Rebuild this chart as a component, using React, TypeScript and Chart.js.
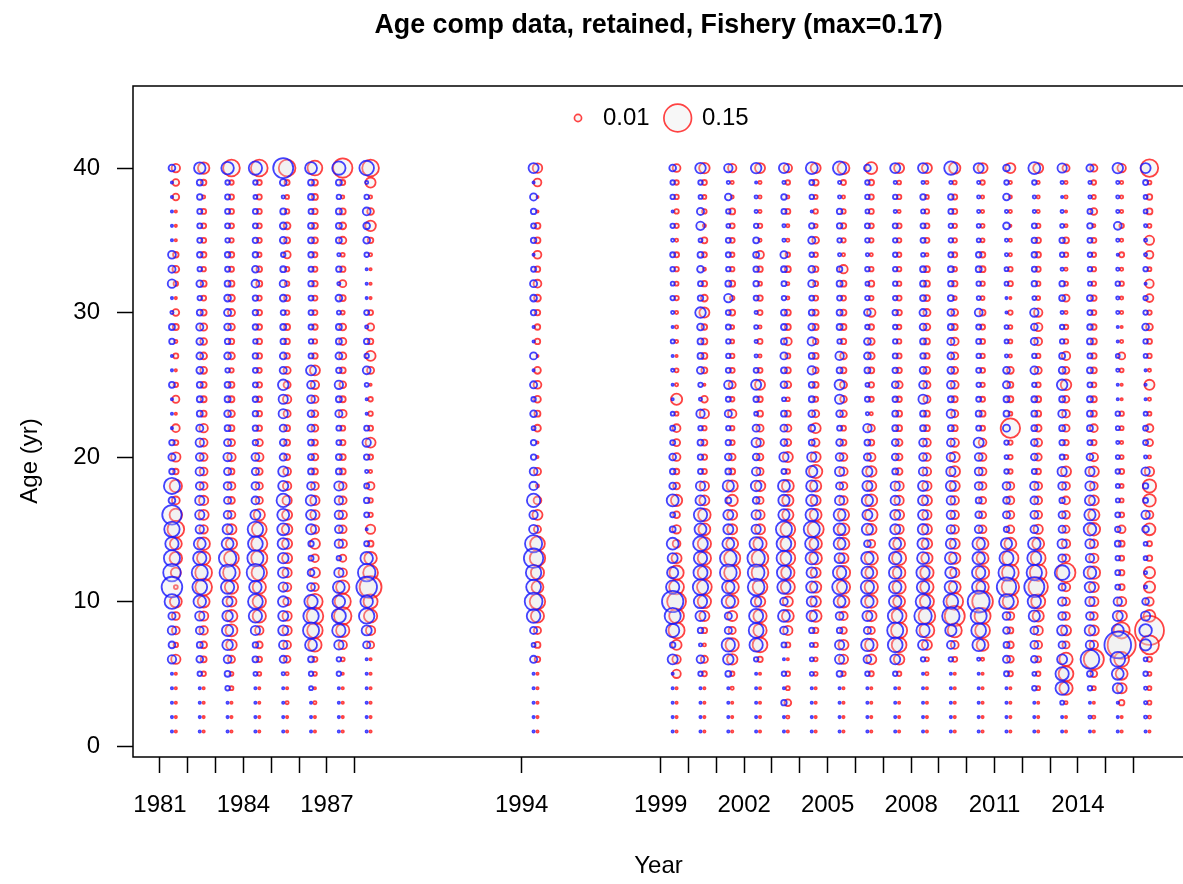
import React, { useEffect, useRef } from "react";
import { Chart, registerables } from "chart.js";

Chart.register(...registerables);

// ---------- data ----------
const sampleYears = [1981, 1982, 1983, 1984, 1985, 1986, 1987, 1988, 1994, 1999, 2000, 2001, 2002, 2003, 2004, 2005, 2006, 2007, 2008, 2009, 2010, 2011, 2012, 2013, 2014, 2015, 2016];
const ages = [40, 39, 38, 37, 36, 35, 34, 33, 32, 31, 30, 29, 28, 27, 26, 25, 24, 23, 22, 21, 20, 19, 18, 17, 16, 15, 14, 13, 12, 11, 10, 9, 8, 7, 6, 5, 4, 3, 2, 1];
const tickYears = [1981, 1982, 1983, 1984, 1985, 1986, 1987, 1988, 1994, 1999, 2000, 2001, 2002, 2003, 2004, 2005, 2006, 2007, 2008, 2009, 2010, 2011, 2012, 2013, 2014, 2015, 2016];
const labeledYears = [1981, 1984, 1987, 1994, 1999, 2002, 2005, 2008, 2011, 2014];
const ageTicks = [0, 10, 20, 30, 40];
const legendValues = [0.01, 0.15];
const titleText = "Age comp data, retained, Fishery (max=0.17)";

// proportions x 1000, listed for ages 40 -> 1 (blue series, red series)
const blue1981 = [9,1,1,1,1,1,12,10,14,1,2,7,6,1,1,7,1,1,1,6,10,6,51,9,74,47,35,51,60,84,43,10,14,9,14,1,1,1,1,1];
const red1981 = [14,9,9,1,1,1,6,9,4,1,9,7,2,5,1,4,10,1,12,5,17,6,30,12,31,55,28,31,20,3,28,12,12,4,17,1,1,1,1,1];
const blue1982 = [26,7,6,5,5,5,6,4,9,4,7,10,9,9,9,7,7,7,10,14,12,14,12,17,17,14,28,35,51,43,31,17,12,7,9,4,1,1,1,1];
const red1982 = [26,6,2,5,5,5,6,4,7,5,7,10,9,9,9,7,7,7,14,12,12,12,12,17,20,14,31,35,55,55,28,17,14,9,7,4,1,1,1,1];
const blue1983 = [31,4,5,5,5,4,6,5,7,9,10,9,6,9,4,7,7,9,7,10,14,10,12,10,12,20,28,60,51,35,20,22,25,22,12,7,4,1,1,1];
const red1983 = [55,4,5,5,5,4,6,5,7,9,10,9,6,9,4,7,7,9,7,10,14,7,12,9,12,20,25,43,55,35,20,28,28,22,10,3,3,1,1,1];
const blue1984 = [35,4,3,5,5,6,6,9,12,6,6,6,4,6,5,5,6,6,6,6,12,10,12,12,20,47,43,51,60,31,43,35,17,6,7,3,1,1,1,1];
const red1984 = [55,5,5,5,5,5,4,6,7,5,6,6,6,6,5,6,6,6,6,10,14,9,10,10,25,43,51,51,47,35,35,35,14,9,6,3,1,1,1,1];
const blue1985 = [79,9,2,7,9,9,4,7,10,9,5,7,6,9,10,22,17,17,10,9,10,20,20,35,28,28,25,22,22,17,22,20,20,14,10,2,1,1,1,1];
const red1985 = [55,5,3,4,9,7,10,4,4,7,4,7,6,6,10,10,14,10,7,7,7,12,14,17,20,22,20,20,17,14,12,17,17,12,9,2,1,2,1,1];
const blue1986 = [28,7,7,5,7,7,6,5,6,5,5,5,4,5,20,12,12,9,10,7,7,7,12,22,20,20,6,5,9,12,35,47,51,28,7,4,3,1,1,1];
const red1986 = [43,7,7,6,7,7,5,5,6,5,5,6,4,6,20,14,10,9,9,7,9,7,12,17,17,14,20,12,20,12,47,55,47,35,5,3,1,2,1,1];
const blue1987 = [35,7,4,7,7,7,2,6,2,9,3,7,7,9,6,14,7,10,5,5,7,7,17,14,14,12,14,4,17,28,31,39,35,17,4,4,1,1,1,1];
const red1987 = [74,5,2,7,9,10,3,6,10,7,3,9,10,10,7,9,7,12,5,6,7,7,12,12,14,12,14,10,14,35,51,60,35,14,3,1,1,1,1,1];
const blue1988 = [42,2,4,12,9,9,4,1,1,1,5,2,6,4,12,3,1,1,5,14,6,2,5,6,5,1,5,31,60,84,31,47,20,10,1,1,1,1,1,1];
const red1988 = [55,20,2,9,22,6,2,1,1,1,5,10,6,20,10,1,4,4,5,20,5,2,12,4,4,17,7,31,43,95,39,35,17,10,1,1,1,1,1,1];
const blue1994 = [20,1,10,6,5,6,1,5,10,9,6,1,1,10,1,10,4,9,3,6,6,12,14,35,14,16,58,74,47,43,62,37,10,3,10,1,1,1,1,1];
const red1994 = [18,12,1,1,7,7,12,6,12,9,6,6,6,1,9,12,9,7,9,1,1,10,2,12,20,10,43,47,34,28,47,34,10,7,6,1,1,1,1,1];
const blue1999 = [9,4,4,1,4,2,5,4,3,4,2,1,3,1,2,1,1,3,5,5,9,6,9,28,5,7,28,20,25,35,90,51,35,6,20,1,1,1,1,1];
const red1999 = [12,4,4,4,4,2,5,4,3,4,2,2,2,1,3,2,25,3,12,10,12,6,9,25,9,14,12,20,40,43,70,43,51,20,14,14,1,1,1,1];
const blue2000 = [22,4,3,10,14,3,7,9,5,6,22,9,7,7,10,4,2,14,4,7,6,5,17,20,35,28,43,35,39,47,35,20,6,2,12,4,1,1,1,1];
const red2000 = [22,5,3,4,2,7,5,2,6,9,20,6,7,7,7,1,9,17,4,7,6,5,17,20,31,28,35,35,35,43,35,20,6,2,10,5,1,1,1,1];
const blue2001 = [14,2,9,4,3,5,5,4,7,14,5,5,4,4,5,14,5,10,4,6,9,7,25,7,20,20,28,55,55,31,35,10,10,35,22,7,1,1,1,1];
const red2001 = [14,2,2,7,5,5,4,4,7,4,7,3,3,4,5,10,4,14,4,5,9,7,25,25,20,20,28,51,51,35,31,20,10,35,22,4,2,1,1,1];
const blue2002 = [22,1,2,2,4,7,7,6,6,5,2,3,2,2,5,20,6,3,10,17,9,14,22,9,17,17,35,60,55,55,22,39,43,35,4,1,1,1,1,1];
const red2002 = [20,2,2,2,4,2,12,6,3,6,5,2,5,2,5,20,6,7,10,12,9,10,22,10,17,20,35,55,55,43,22,35,35,43,6,1,1,1,1,1];
const blue2003 = [20,2,6,5,2,2,10,7,5,4,7,7,7,10,7,9,3,7,10,9,17,5,28,25,25,51,43,43,39,35,12,28,12,5,1,4,1,6,1,1];
const red2003 = [14,4,2,5,2,2,4,7,2,2,7,7,12,5,7,9,3,7,10,9,20,4,28,25,25,43,43,43,35,39,20,28,17,5,1,4,3,9,2,1];
const blue2004 = [28,5,4,1,6,10,4,9,10,5,7,9,14,7,14,7,7,9,9,7,17,25,25,25,31,51,35,31,22,25,20,22,6,3,3,3,1,1,1,1];
const red2004 = [20,7,3,4,3,9,4,6,5,5,7,7,6,7,7,7,5,10,20,12,20,35,25,20,28,51,31,31,20,25,22,28,6,4,3,3,1,1,1,1];
const blue2005 = [35,2,2,6,6,4,2,6,7,5,7,7,4,14,7,20,17,9,5,9,12,17,10,17,28,28,28,20,35,43,28,12,6,17,17,7,1,1,1,1];
const red2005 = [28,5,2,4,6,4,2,14,7,5,7,7,6,9,7,10,9,9,5,7,12,14,12,14,25,28,28,20,35,35,28,14,9,20,17,4,1,1,1,1];
const blue2006 = [9,4,4,3,5,4,2,4,3,4,9,4,9,9,7,3,5,2,14,7,10,20,20,25,20,25,9,31,28,35,31,20,10,31,12,4,1,1,1,1];
const red2006 = [28,6,5,5,5,4,2,4,7,4,14,6,9,9,7,6,5,2,10,7,14,22,20,28,31,22,12,35,28,35,31,22,10,31,20,5,1,1,1,1];
const blue2007 = [20,2,4,2,5,4,4,4,4,4,6,4,4,5,6,9,6,7,7,9,9,7,17,17,20,20,28,31,31,31,31,43,51,43,20,4,1,1,1,1];
const red2007 = [20,3,4,2,5,4,4,4,4,5,6,4,4,5,6,10,6,7,7,9,9,9,17,17,20,17,28,39,31,35,28,43,51,43,22,4,1,1,1,1];
const blue2008 = [20,2,6,3,5,5,3,7,7,7,10,9,7,6,9,12,17,7,7,12,12,14,20,20,20,22,25,28,35,31,43,60,35,20,4,1,1,1,1,1];
const red2008 = [20,2,3,4,5,5,2,7,7,7,10,9,7,6,9,10,10,7,7,12,12,14,17,20,17,20,22,25,35,35,39,55,43,20,3,2,1,1,1,1];
const blue2009 = [35,2,6,5,4,4,5,7,6,7,9,7,10,9,9,12,7,14,7,12,14,17,20,14,14,14,20,28,25,31,43,60,25,12,4,1,1,1,1,1];
const red2009 = [25,3,5,5,4,4,5,4,6,3,9,7,12,10,9,12,7,10,7,14,20,22,20,14,14,14,20,25,17,28,55,79,39,12,5,1,1,1,1,1];
const blue2010 = [20,2,2,2,3,3,6,7,4,3,12,5,5,4,5,4,5,7,5,20,12,12,12,7,9,12,31,31,35,35,95,51,43,31,2,1,1,1,1,1];
const red2010 = [20,4,2,2,3,3,6,7,4,3,7,5,5,4,5,4,5,7,5,12,12,12,12,10,10,12,28,28,35,31,84,51,43,28,2,1,1,1,1,1];
const blue2011 = [9,4,9,2,9,2,2,3,3,1,1,3,3,2,9,10,7,7,10,4,3,4,12,9,10,6,25,39,51,74,43,12,9,7,10,5,1,1,1,1];
const red2011 = [20,2,2,2,1,2,2,4,5,1,4,3,3,2,9,7,7,3,74,4,4,4,12,12,12,12,28,51,55,60,47,12,7,9,9,5,1,1,1,1];
const blue2012 = [28,4,2,2,5,6,6,5,6,3,14,9,10,4,12,4,7,7,7,9,9,5,14,12,12,12,31,39,47,79,35,25,12,12,9,3,4,1,1,1];
const red2012 = [20,2,2,2,4,6,6,5,4,3,14,14,12,4,10,5,7,7,9,12,10,6,12,12,12,17,28,43,55,74,39,25,17,12,7,4,3,1,1,1];
const blue2013 = [17,2,1,2,3,6,4,2,6,7,2,4,4,7,9,22,7,12,7,6,5,17,12,6,10,10,17,12,43,10,14,12,20,10,20,35,35,3,1,1];
const red2013 = [10,2,2,1,2,7,4,2,3,10,2,4,4,14,9,22,9,12,10,6,4,20,12,12,12,10,14,12,70,14,12,12,20,10,35,43,35,2,1,1];
const blue2014 = [10,2,2,5,6,5,4,4,3,7,5,6,7,5,7,5,7,7,7,5,9,17,17,20,25,31,17,14,31,22,17,12,22,14,70,7,4,1,2,1];
const red2014 = [10,4,3,9,2,5,4,4,4,6,5,6,7,6,7,5,7,7,12,6,14,20,12,20,25,31,14,17,31,20,17,12,20,14,79,9,3,1,2,1];
const blue2015 = [22,2,2,2,12,2,1,2,4,2,2,1,1,3,2,1,1,4,3,2,3,4,3,3,5,6,7,4,5,5,14,20,28,140,43,28,20,1,1,1];
const red2015 = [14,2,2,2,4,2,5,2,4,2,2,1,2,10,3,1,1,4,3,2,3,5,3,3,5,12,7,5,6,7,17,22,51,155,43,28,20,6,1,1];
const blue2016 = [20,5,3,3,2,2,2,4,1,4,4,9,4,3,1,1,1,3,5,5,2,14,6,5,14,9,3,3,2,2,9,17,31,25,3,4,2,2,2,1];
const red2016 = [60,3,6,7,3,17,12,3,14,12,4,9,5,4,2,20,2,3,12,10,2,17,35,31,12,28,5,6,25,25,14,28,165,70,5,3,3,3,2,1];

const blueSeries = [blue1981, blue1982, blue1983, blue1984, blue1985, blue1986, blue1987, blue1988, blue1994, blue1999, blue2000, blue2001, blue2002, blue2003, blue2004, blue2005, blue2006, blue2007, blue2008, blue2009, blue2010, blue2011, blue2012, blue2013, blue2014, blue2015, blue2016];
const redSeries = [red1981, red1982, red1983, red1984, red1985, red1986, red1987, red1988, red1994, red1999, red2000, red2001, red2002, red2003, red2004, red2005, red2006, red2007, red2008, red2009, red2010, red2011, red2012, red2013, red2014, red2015, red2016];

// ---------- styling ----------
const FONT = '"Liberation Sans", Arial, Helvetica, sans-serif';
const BLUE = "rgba(20,20,255,0.8)";
const RED = "rgba(255,20,20,0.8)";
const FILL = "rgba(228,228,228,0.3)";
const radiusFor = (p: number) => 13.8 * Math.sqrt(p / 0.15);

function buildPoints(series: number[][], shift: number) {
  const pts: { x: number; y: number; r: number }[] = [];
  sampleYears.forEach((yr, i) => {
    series[i].forEach((v, j) => {
      pts.push({ x: yr + 0.5 + shift, y: ages[j], r: radiusFor(v / 1000) });
    });
  });
  return pts;
}

const decorPlugin = {
  id: "decor",
  afterDraw(chart: any) {
    const { ctx, chartArea: a } = chart;
    ctx.save();
    ctx.strokeStyle = "#000";
    ctx.lineWidth = 1.5;
    ctx.strokeRect(a.left, a.top, chart.width + 20 - a.left, a.bottom - a.top);

    ctx.fillStyle = "#000";
    ctx.textAlign = "center";
    ctx.textBaseline = "middle";
    ctx.font = `bold 26.8px ${FONT}`;
    ctx.fillText(titleText, 658.5, 26);

    ctx.font = `24px ${FONT}`;
    ctx.fillText("Year", 658.5, 866);
    ctx.save();
    ctx.translate(30, 461);
    ctx.rotate(-Math.PI / 2);
    ctx.fillText("Age (yr)", 0, 0);
    ctx.restore();

    // bubble size legend
    const ly = a.top + 32;
    const lx = [578, 677.7];
    const tx = [603, 702];
    legendValues.forEach((v, i) => {
      ctx.beginPath();
      ctx.arc(lx[i], ly, radiusFor(v), 0, Math.PI * 2);
      ctx.fillStyle = FILL;
      ctx.fill();
      ctx.strokeStyle = RED;
      ctx.lineWidth = 1.7;
      ctx.stroke();
      ctx.fillStyle = "#000";
      ctx.textAlign = "left";
      ctx.fillText(String(v), tx[i], ly);
    });
    ctx.restore();
  },
};

export default function App() {
  const ref = useRef<HTMLCanvasElement>(null);
  useEffect(() => {
    if (!ref.current) return;
    const gridOpts = {
      display: true,
      drawOnChartArea: false,
      drawTicks: true,
      tickLength: 16,
      tickColor: "#000",
      tickWidth: 1.5,
      color: "#000",
    };
    const chart = new Chart(ref.current, {
      type: "bubble",
      data: {
        datasets: [
          {
            label: "blue",
            data: buildPoints(blueSeries, -0.07),
            borderColor: BLUE,
            backgroundColor: FILL,
            borderWidth: 1.8,
            clip: false,
          },
          {
            label: "red",
            data: buildPoints(redSeries, 0.07),
            borderColor: RED,
            backgroundColor: FILL,
            borderWidth: 1.8,
            clip: false,
          },
        ],
      },
      options: {
        responsive: false,
        animation: false,
        devicePixelRatio: 1,
        layout: { padding: { top: 86, left: 0, right: 0, bottom: 0 } },
        plugins: { legend: { display: false }, tooltip: { enabled: false }, title: { display: false } },
        scales: {
          x: {
            type: "linear",
            min: 1980.03,
            max: 2017.19,
            afterBuildTicks: (s: any) => {
              s.ticks = tickYears.map((v) => ({ value: v }));
            },
            afterFit: (s: any) => {
              s.height = 127;
            },
            grid: gridOpts,
            border: { display: false },
            ticks: {
              autoSkip: false,
              maxRotation: 0,
              minRotation: 0,
              padding: 18,
              color: "#000",
              font: { family: FONT, size: 24 },
              callback: (v: any) => (labeledYears.includes(Number(v)) ? String(v) : ""),
            },
          },
          y: {
            type: "linear",
            min: -0.76,
            max: 45.68,
            afterBuildTicks: (s: any) => {
              s.ticks = ageTicks.map((v) => ({ value: v }));
            },
            afterFit: (s: any) => {
              s.width = 133;
            },
            grid: gridOpts,
            border: { display: false },
            ticks: {
              padding: 17,
              color: "#000",
              font: { family: FONT, size: 24 },
              callback: (v: any) => String(v),
            },
          },
        },
      },
      plugins: [decorPlugin],
    } as any);
    return () => chart.destroy();
  }, []);
  return (
    <div style={{ position: "absolute", left: 0, top: 0, width: 1183, height: 884, background: "#fff" }}>
      <canvas ref={ref} width={1183} height={884} style={{ display: "block", width: 1183, height: 884 }} />
    </div>
  );
}
